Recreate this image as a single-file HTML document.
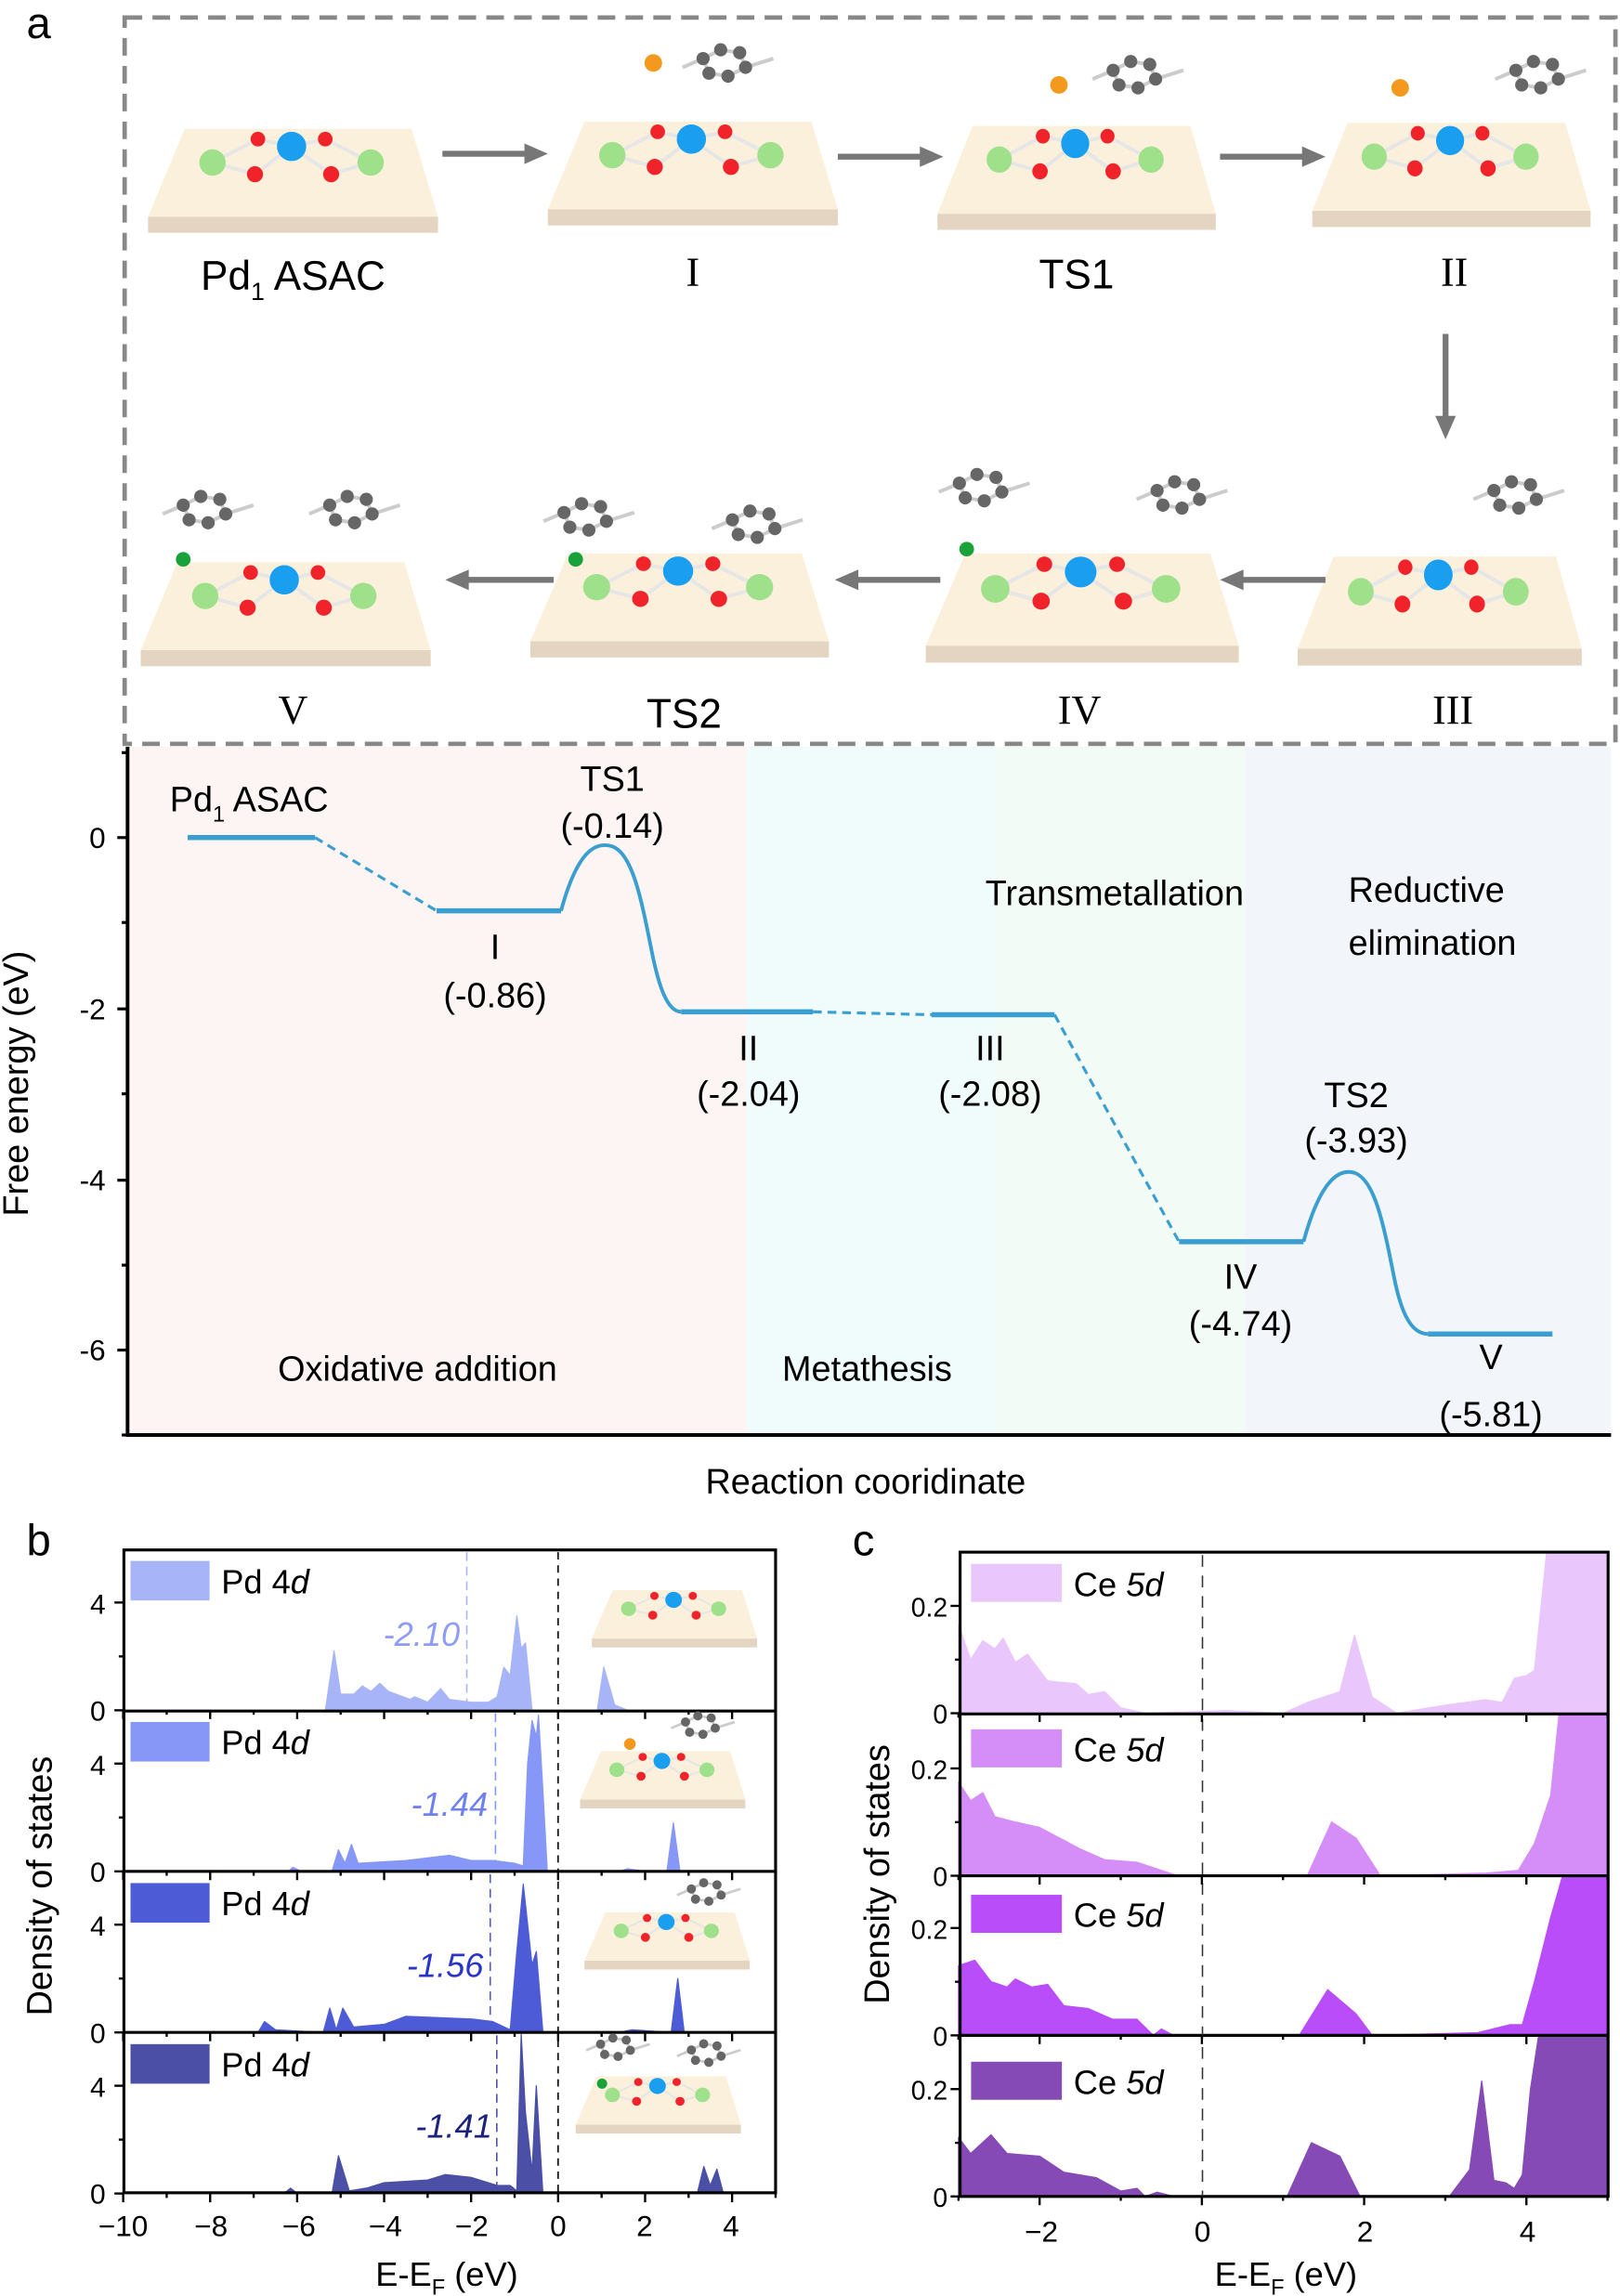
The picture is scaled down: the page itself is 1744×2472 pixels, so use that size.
<!DOCTYPE html>
<html><head><meta charset="utf-8"><style>
html,body{margin:0;padding:0;background:#fff}
svg{display:block}
text{font-family:"Liberation Sans",sans-serif;fill:#000}
.sf{font-family:"Liberation Serif",serif}
</style></head><body>
<svg id="s" width="1744" height="2472" viewBox="0 0 1106 1568" xmlns="http://www.w3.org/2000/svg">
<defs>
<g id="slab">
<polygon points="25,0 180,0 198,60 0,60" fill="#fbf0dc"/>
<rect x="0" y="60" width="198" height="11" fill="#e4d5c2"/>
<g stroke="#e6e6e6" stroke-width="2.5">
<line x1="44" y1="23" x2="75" y2="7"/><line x1="44" y1="23" x2="73" y2="31"/>
<line x1="98" y1="12" x2="75" y2="7"/><line x1="98" y1="12" x2="73" y2="31"/>
<line x1="98" y1="12" x2="121" y2="7"/><line x1="98" y1="12" x2="125" y2="31"/>
<line x1="152" y1="23" x2="121" y2="7"/><line x1="152" y1="23" x2="125" y2="31"/>
</g>
<circle cx="44" cy="23" r="9" fill="#9fe08a"/><circle cx="152" cy="23" r="9" fill="#9fe08a"/>
<circle cx="75" cy="7" r="5" fill="#f0232a"/><circle cx="121" cy="7" r="5" fill="#f0232a"/>
<circle cx="73" cy="31" r="5.5" fill="#f0232a"/><circle cx="125" cy="31" r="5.5" fill="#f0232a"/>
<circle cx="98" cy="12" r="10" fill="#1a9ef0"/>
</g>
<g id="ring">
<g stroke="#ccc" stroke-width="2.5"><polyline points="0,0 12,-6 25,-4 29,6 17,12 4,10 0,0" fill="none"/><line x1="29" y1="6" x2="48" y2="0"/><line x1="0" y1="0" x2="-14" y2="6"/></g>
<g fill="#666"><circle cx="0" cy="0" r="4.5"/><circle cx="12" cy="-6" r="4.5"/><circle cx="25" cy="-4" r="4.5"/><circle cx="29" cy="6" r="4.5"/><circle cx="17" cy="12" r="4.5"/><circle cx="4" cy="10" r="4.5"/></g>
</g>
</defs>

<text x="18" y="26" font-size="30">a</text>
<rect x="85" y="12" width="1018" height="496" fill="none" stroke="#888" stroke-width="3" stroke-dasharray="12,7"/>
<use href="#slab" transform="translate(101,88)"/>
<use href="#slab" transform="translate(374,83)"/>
<use href="#ring" transform="translate(480,40)"/><circle cx="446" cy="43" r="6" fill="#f39a1e"/>
<use href="#slab" transform="translate(640,86) scale(0.96,1)"/>
<use href="#ring" transform="translate(760,48)"/><circle cx="723" cy="58" r="6" fill="#f39a1e"/>
<use href="#slab" transform="translate(896,84) scale(0.96,1)"/>
<use href="#ring" transform="translate(1035,48)"/><circle cx="956" cy="60" r="6" fill="#f39a1e"/>
<use href="#slab" transform="translate(96,384)"/>
<use href="#ring" transform="translate(125,345)"/><use href="#ring" transform="translate(225,345)"/><circle cx="125" cy="382" r="5" fill="#19a23a"/>
<use href="#slab" transform="translate(362,378) scale(1.03,1)"/>
<use href="#ring" transform="translate(385,350)"/><use href="#ring" transform="translate(500,355)"/><circle cx="393" cy="382" r="5" fill="#19a23a"/>
<use href="#slab" transform="translate(632,378) scale(1.08,1.05)"/>
<use href="#ring" transform="translate(655,330)"/><use href="#ring" transform="translate(790,335)"/><circle cx="660" cy="375" r="5" fill="#19a23a"/>
<use href="#slab" transform="translate(886,380) scale(0.98,1.05)"/>
<use href="#ring" transform="translate(1020,335)"/>
<g fill="#777" stroke="#777" stroke-width="4">
<line x1="302" y1="105" x2="360" y2="105"/><polygon points="358,98 374,105 358,112" stroke="none"/>
<line x1="572" y1="107" x2="630" y2="107"/><polygon points="628,100 644,107 628,114" stroke="none"/>
<line x1="833" y1="107" x2="891" y2="107"/><polygon points="889,100 905,107 889,114" stroke="none"/>
<line x1="987" y1="228" x2="987" y2="286"/><polygon points="980,284 987,300 994,284" stroke="none"/>
<line x1="378" y1="396" x2="318" y2="396"/><polygon points="320,389 304,396 320,403" stroke="none"/>
<line x1="642" y1="396" x2="584" y2="396"/><polygon points="586,389 570,396 586,403" stroke="none"/>
<line x1="905" y1="396" x2="847" y2="396"/><polygon points="849,389 833,396 849,403" stroke="none"/>
</g>
<g font-size="28" text-anchor="middle">
<text x="200" y="198">Pd<tspan font-size="17" dy="7">1</tspan><tspan dy="-7"> ASAC</tspan></text>
<text x="473" y="195" class="sf">I</text>
<text x="735" y="197">TS1</text>
<text x="993" y="195" class="sf">II</text>
<text x="200" y="494" class="sf">V</text>
<text x="467" y="497">TS2</text>
<text x="737" y="494" class="sf">IV</text>
<text x="992" y="494" class="sf">III</text>
</g>

<rect x="87" y="510" width="423" height="470" fill="#fcf5f4"/>
<rect x="510" y="510" width="170" height="470" fill="#f0fcfc"/>
<rect x="680" y="510" width="170" height="470" fill="#f3fbf7"/>
<rect x="850" y="510" width="250" height="470" fill="#f2f6fa"/>
<polyline points="87,510 87,980 1100,980" fill="none" stroke="#000" stroke-width="2.5"/>
<g stroke="#000" stroke-width="2">
<line x1="80" y1="572" x2="87" y2="572"/><line x1="80" y1="689" x2="87" y2="689"/><line x1="80" y1="806" x2="87" y2="806"/><line x1="80" y1="922" x2="87" y2="922"/>
<line x1="83" y1="630" x2="87" y2="630"/><line x1="83" y1="747" x2="87" y2="747"/><line x1="83" y1="864" x2="87" y2="864"/><line x1="83" y1="980" x2="87" y2="980"/><line x1="83" y1="514" x2="87" y2="514"/>
</g>
<g font-size="20" text-anchor="end">
<text x="72" y="579">0</text><text x="72" y="696">-2</text><text x="72" y="813">-4</text><text x="72" y="929">-6</text>
</g>
<text transform="translate(19,740) rotate(-90)" font-size="24" text-anchor="middle">Free energy (eV)</text>
<text x="591" y="1020" font-size="24" text-anchor="middle">Reaction cooridinate</text>
<g fill="none" stroke="#3a9fd0">
<g stroke-width="3.5">
<line x1="128" y1="572" x2="215" y2="572"/><line x1="298" y1="622" x2="383" y2="622"/>
<line x1="465" y1="691" x2="555" y2="691"/><line x1="636" y1="693" x2="720" y2="693"/>
<line x1="805" y1="848" x2="890" y2="848"/><line x1="975" y1="911" x2="1060" y2="911"/>
</g>
<g stroke-width="2" stroke-dasharray="6,4">
<line x1="215" y1="572" x2="298" y2="622"/><line x1="555" y1="691" x2="636" y2="693"/><line x1="720" y1="693" x2="805" y2="848"/>
</g>
<path d="M383,622 C395,578 408,575 418,578 C432,583 438,615 445,650 C450,675 456,691 465,691" stroke-width="2.5"/>
<path d="M890,848 C902,804 915,798 925,801 C939,806 945,838 952,873 C957,898 964,911 975,911" stroke-width="2.5"/>
</g>
<g font-size="24" text-anchor="middle">
<text x="170" y="554">Pd<tspan font-size="15" dy="7">1</tspan><tspan dy="-7"> ASAC</tspan></text>
<text x="418" y="540">TS1</text><text x="418" y="572">(-0.14)</text>
<text x="338" y="655">I</text><text x="338" y="688">(-0.86)</text>
<text x="511" y="724">II</text><text x="511" y="755">(-2.04)</text>
<text x="676" y="724">III</text><text x="676" y="755">(-2.08)</text>
<text x="847" y="880">IV</text><text x="847" y="912">(-4.74)</text>
<text x="926" y="756">TS2</text><text x="926" y="787">(-3.93)</text>
<text x="1018" y="935">V</text><text x="1018" y="974">(-5.81)</text>
<text x="761" y="618">Transmetallation</text>
<text x="974" y="616">Reductive</text><text x="978" y="652">elimination</text>
<text x="285" y="943">Oxidative addition</text>
<text x="592" y="943">Metathesis</text>
</g>

<text x="18" y="1062" font-size="30">b</text>
<g id="bcurves"></g>
<g stroke="#000" stroke-width="2" fill="none">
<rect x="84.5" y="1058.5" width="445" height="439"/>
<line x1="84.5" y1="1168.5" x2="529.5" y2="1168.5"/>
<line x1="84.5" y1="1278" x2="529.5" y2="1278"/>
<line x1="84.5" y1="1388" x2="529.5" y2="1388"/>
</g>
<g stroke="#000" stroke-width="1" stroke-dasharray="5,4"><line x1="381" y1="1060" x2="381" y2="1497"/></g>
<g id="btick"></g>
<g font-size="19" text-anchor="end">
<text x="72" y="1175">0</text><text x="72" y="1102">4</text>
<text x="72" y="1285">0</text><text x="72" y="1212">4</text>
<text x="72" y="1395">0</text><text x="72" y="1322">4</text>
<text x="72" y="1505">0</text><text x="72" y="1432">4</text>
</g>
<g font-size="20" text-anchor="middle">
<text x="84" y="1527">−10</text><text x="144" y="1527">−8</text><text x="204" y="1527">−6</text><text x="263" y="1527">−4</text><text x="322" y="1527">−2</text><text x="381" y="1527">0</text><text x="440" y="1527">2</text><text x="499" y="1527">4</text>
</g>
<text x="305" y="1561" font-size="23" text-anchor="middle">E-E<tspan font-size="15" dy="6">F</tspan><tspan dy="-6"> (eV)</tspan></text>
<text transform="translate(35,1288) rotate(-90)" font-size="24" text-anchor="middle">Density of states</text>
<g font-size="23">
<rect x="89" y="1066" width="54" height="27" fill="#a8b4f8"/><text x="151" y="1088">Pd 4<tspan font-style="italic">d</tspan></text>
<rect x="89" y="1176" width="54" height="27" fill="#8797f7"/><text x="151" y="1198">Pd 4<tspan font-style="italic">d</tspan></text>
<rect x="89" y="1286" width="54" height="27" fill="#4e5bd6"/><text x="151" y="1308">Pd 4<tspan font-style="italic">d</tspan></text>
<rect x="89" y="1396" width="54" height="27" fill="#4b4fa5"/><text x="151" y="1418">Pd 4<tspan font-style="italic">d</tspan></text>
</g>
<g font-size="23" font-style="italic" text-anchor="end">
<text x="314" y="1124" style="fill:#8f9cf5">-2.10</text>
<text x="333" y="1240" style="fill:#6f80f0">-1.44</text>
<text x="330" y="1350" style="fill:#2a34c8">-1.56</text>
<text x="336" y="1460" style="fill:#1d237a">-1.41</text>
</g>
<use href="#slab" transform="translate(404,1086) scale(0.57,0.55)"/>
<use href="#slab" transform="translate(396,1196) scale(0.57,0.55)"/><use href="#ring" transform="translate(468,1176) scale(0.7)"/><circle cx="430" cy="1191" r="4" fill="#f39a1e"/>
<use href="#slab" transform="translate(399,1306) scale(0.57,0.55)"/><use href="#ring" transform="translate(472,1290) scale(0.7)"/>
<use href="#slab" transform="translate(393,1418) scale(0.57,0.55)"/><use href="#ring" transform="translate(410,1396) scale(0.7)"/><use href="#ring" transform="translate(472,1400) scale(0.7)"/><circle cx="411" cy="1423" r="3.5" fill="#19a23a"/>

<text x="582" y="1062" font-size="30">c</text>
<g id="ccurves"></g>
<g stroke="#000" stroke-width="2" fill="none">
<rect x="655.5" y="1060" width="442.5" height="440"/>
<line x1="655.5" y1="1170.5" x2="1098" y2="1170.5"/>
<line x1="655.5" y1="1281" x2="1098" y2="1281"/>
<line x1="655.5" y1="1390" x2="1098" y2="1390"/>
</g>
<g stroke="#333" stroke-width="1" stroke-dasharray="8,6"><line x1="821" y1="1062" x2="821" y2="1500"/></g>
<g id="ctick"></g>
<g font-size="18" text-anchor="end">
<text x="647" y="1177">0</text><text x="647" y="1104">0.2</text>
<text x="647" y="1288">0</text><text x="647" y="1215">0.2</text>
<text x="647" y="1397">0</text><text x="647" y="1324">0.2</text>
<text x="647" y="1507">0</text><text x="647" y="1434">0.2</text>
</g>
<g font-size="20" text-anchor="middle">
<text x="711" y="1531">−2</text><text x="821" y="1531">0</text><text x="932" y="1531">2</text><text x="1043" y="1531">4</text>
</g>
<text x="878" y="1561" font-size="23" text-anchor="middle">E-E<tspan font-size="15" dy="6">F</tspan><tspan dy="-6"> (eV)</tspan></text>
<text transform="translate(607,1280) rotate(-90)" font-size="24" text-anchor="middle">Density of states</text>
<g font-size="23">
<rect x="663" y="1068" width="62" height="26" fill="#e9c6fb"/><text x="733" y="1090">Ce <tspan font-style="italic">5d</tspan></text>
<rect x="663" y="1181" width="62" height="26" fill="#d58ef8"/><text x="733" y="1203">Ce <tspan font-style="italic">5d</tspan></text>
<rect x="663" y="1294" width="62" height="26" fill="#b94dfa"/><text x="733" y="1316">Ce <tspan font-style="italic">5d</tspan></text>
<rect x="663" y="1408" width="62" height="26" fill="#854ab5"/><text x="733" y="1430">Ce <tspan font-style="italic">5d</tspan></text>
</g>
</svg>
<script>
(function(){
var NS="http://www.w3.org/2000/svg";
function mk(g,pts,fx,fy,col,base){
 var d="M"+fx(pts[0][0])+","+base;
 for(var i=0;i<pts.length;i++)d+=" L"+fx(pts[i][0]).toFixed(1)+","+fy(pts[i][1]).toFixed(1);
 d+=" L"+fx(pts[pts.length-1][0])+","+base+" Z";
 var p=document.createElementNS(NS,"path");p.setAttribute("d",d);p.setAttribute("fill",col);p.setAttribute("stroke",col);p.setAttribute("stroke-width","0.8");p.setAttribute("stroke-linejoin","round");g.appendChild(p);
}
function P(a){var r=[];for(var i=0;i<a.length;i+=2)r.push([a[i],a[i+1]]);return r;}
var bg=document.getElementById("bcurves");
var bx=function(e){return 381+29.7*e;};
var B=[
[1168,"#a8b4f8",-2.10,[-5.35,0,-5.15,2.2,-5,0.6,-4.7,0.6,-4.5,0.9,-4.3,0.7,-4.1,1.0,-3.9,0.7,-3.4,0.4,-3.3,0.5,-3,0.3,-2.7,0.8,-2.5,0.4,-2,0.3,-1.6,0.3,-1.4,0.5,-1.25,1.6,-1.1,1.3,-0.95,3.5,-0.85,2.3,-0.75,2.5,-0.6,0,0.9,0,1.05,1.6,1.3,0.2,1.6,0,5,0]],
[1278,"#8797f7",-1.44,[-6.2,0,-6.1,0.15,-5.9,0,-5.2,0,-5.05,0.8,-4.9,0.3,-4.75,1.0,-4.6,0.3,-3.5,0.4,-2.5,0.6,-2,0.4,-1.5,0.4,-1,0.3,-0.8,0.2,-0.7,4.0,-0.6,5.6,-0.5,5.0,-0.45,5.8,-0.35,3,-0.25,0,1.4,0,1.6,0.1,2.0,0,2.5,0,2.65,1.8,2.8,0,5,0]],
[1388,"#4e5bd6",-1.56,[-6.9,0,-6.75,0.4,-6.5,0.1,-5.4,0,-5.25,0.9,-5.1,0.1,-4.95,0.9,-4.7,0.2,-4,0.3,-3.5,0.6,-2,0.5,-1.5,0.4,-1.1,0.1,-0.95,3,-0.8,5.5,-0.6,2.5,-0.5,3.0,-0.35,0,1.4,0,1.7,0.1,2.6,0,2.75,2,2.9,0,5,0]],
[1498,"#4b4fa5",-1.41,[-6.3,0,-6.15,0.2,-6,0,-5.2,0,-5.05,1.4,-4.8,0.1,-4.4,0.2,-4,0.4,-3,0.5,-2.6,0.7,-2,0.6,-1.4,0.3,-1.1,0.3,-0.95,0.1,-0.85,5.9,-0.75,3,-0.6,0.8,-0.5,4.0,-0.35,0,3.2,0,3.35,1.0,3.5,0.3,3.65,0.9,3.8,0,5,0]]];
B.forEach(function(b){var base=b[0];mk(bg,P(b[3]),bx,function(v){return base-18.4*v;},b[1],base);
 var l=document.createElementNS(NS,"line");var x=bx(b[2]);l.setAttribute("x1",x);l.setAttribute("x2",x);l.setAttribute("y1",base-108);l.setAttribute("y2",base);l.setAttribute("stroke",b[1]);l.setAttribute("stroke-dasharray","6,4");l.setAttribute("stroke-width","1");bg.appendChild(l);});
var cg=document.getElementById("ccurves");
var cx=function(e){return 820.6+55.4*e;};
var C=[
[1170,"#e9c6fb",[-3,0.165,-2.85,0.1,-2.7,0.135,-2.55,0.12,-2.45,0.14,-2.3,0.095,-2.15,0.11,-1.9,0.06,-1.55,0.055,-1.4,0.035,-1.2,0.04,-1,0.01,-0.7,0,0.3,0.005,1,0,1.3,0.02,1.7,0.04,1.88,0.145,2.1,0.03,2.4,0,3,0.015,3.5,0.025,3.7,0.02,3.85,0.065,4.0,0.07,4.1,0.08,4.25,0.3,5,0.3]],
[1281,"#d58ef8",[-3,0.175,-2.85,0.14,-2.7,0.155,-2.55,0.11,-2.3,0.1,-2.0,0.09,-1.5,0.05,-1.2,0.03,-0.8,0.025,-0.5,0.01,-0.3,0,1.3,0,1.6,0.1,1.9,0.07,2.2,0,3.5,0.005,3.9,0.01,4.1,0.06,4.3,0.15,4.4,0.3,5,0.3]],
[1390,"#b94dfa",[-3,0.13,-2.8,0.14,-2.6,0.1,-2.4,0.09,-2.3,0.105,-2.1,0.09,-1.9,0.095,-1.7,0.055,-1.4,0.05,-1.1,0.03,-0.8,0.03,-0.6,0,-0.5,0.012,-0.35,0,1.2,0,1.55,0.085,1.9,0.04,2.1,0,3.4,0.005,3.8,0.02,3.95,0.02,4.1,0.1,4.3,0.22,4.45,0.3,5,0.3]],
[1500,"#854ab5",[-3,0.11,-2.85,0.08,-2.6,0.115,-2.4,0.08,-2.0,0.075,-1.7,0.045,-1.3,0.035,-1.0,0.01,-0.8,0.015,-0.7,0,-0.55,0.008,-0.35,0,1.05,0,1.35,0.1,1.7,0.075,1.95,0,3.05,0,3.3,0.05,3.45,0.215,3.6,0.03,3.75,0.025,3.85,0.015,3.95,0.04,4.05,0.2,4.15,0.3,5,0.3]]];
C.forEach(function(c){var base=c[0];mk(cg,P(c[2]),cx,function(v){return base-366.5*Math.min(v,0.299);},c[1],base);});
function tick(g,x1,y1,x2,y2){var l=document.createElementNS(NS,"line");l.setAttribute("x1",x1);l.setAttribute("y1",y1);l.setAttribute("x2",x2);l.setAttribute("y2",y2);l.setAttribute("stroke","#000");l.setAttribute("stroke-width","1.5");g.appendChild(l);}
var bt=document.getElementById("btick");
[1168,1278,1388,1498].forEach(function(b){tick(bt,78,b,84,b);tick(bt,78,b-73.6,84,b-73.6);tick(bt,81,b-36.8,84,b-36.8);
 for(var e=-10;e<=5;e++){var x=bx(e);var L=(e%2==0)?6:3;tick(bt,x,b,x,b+L);}});
var ct=document.getElementById("ctick");
[1170,1281,1390,1500].forEach(function(b){tick(ct,649,b,655,b);tick(ct,649,b-73.3,655,b-73.3);tick(ct,652,b-36.6,655,b-36.6);
 for(var e=-3;e<=5;e++){var x=cx(e);var L=(e%2==0)?6:3;tick(ct,x,b,x,b+L);}});
})();
</script>
</body></html>
